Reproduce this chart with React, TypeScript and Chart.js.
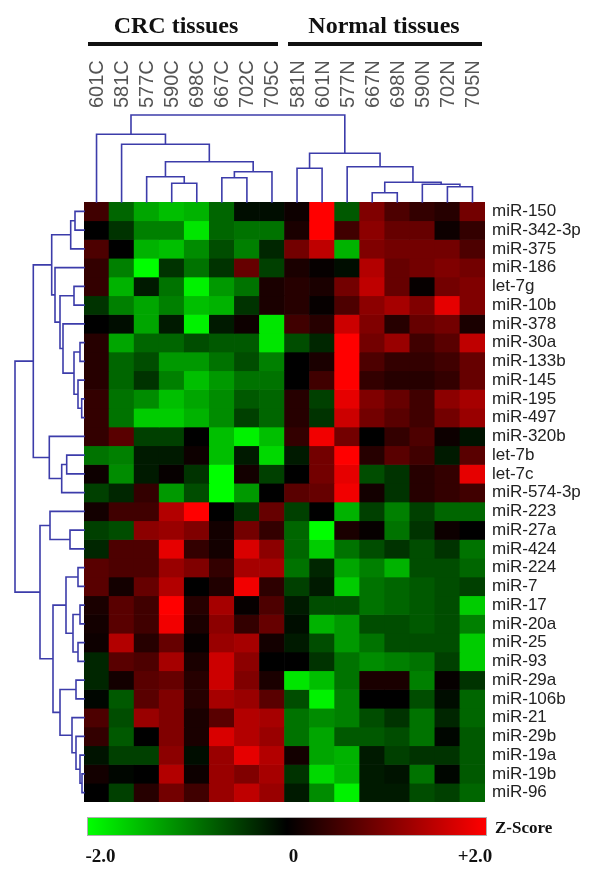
import React, { useEffect, useRef } from 'react';
import { Chart, registerables } from 'chart.js';

Chart.register(...registerables);

// ---------- data ----------
const COLUMNS = ['601C', '581C', '577C', '590C', '698C', '667C', '702C', '705C', '581N', '601N', '577N', '667N', '698N', '590N', '702N', '705N'];

const ROWS = ['miR-150', 'miR-342-3p', 'miR-375', 'miR-186', 'let-7g', 'miR-10b', 'miR-378', 'miR-30a', 'miR-133b', 'miR-145', 'miR-195', 'miR-497', 'miR-320b', 'let-7b', 'let-7c', 'miR-574-3p', 'miR-223', 'miR-27a', 'miR-424', 'miR-224', 'miR-7', 'miR-17', 'miR-20a', 'miR-25', 'miR-93', 'miR-29a', 'miR-106b', 'miR-21', 'miR-29b', 'miR-19a', 'miR-19b', 'miR-96'];

// z-scores, one row per miRNA, one value per sample (COLUMNS order)
const Z_SCORES: number[][] = [
  [0.5, -0.8, -1.3, -1.5, -1.4, -0.8, -0.1, -0.1, 0.1, 2.0, -0.7, 1.0, 0.6, 0.4, 0.3, 0.9],
  [0.0, -0.4, -1.0, -1.0, -1.8, -0.8, -0.9, -0.9, 0.2, 2.0, 0.5, 1.1, 0.8, 0.8, 0.1, 0.4],
  [0.6, 0.0, -1.4, -1.5, -1.1, -0.6, -1.0, -0.3, 0.9, 1.5, -1.4, 1.0, 0.9, 0.9, 0.9, 0.6],
  [0.4, -1.0, -2.0, -0.4, -0.9, -0.4, 0.8, -0.5, 0.2, 0.05, -0.1, 1.4, 0.8, 0.9, 1.0, 0.9],
  [0.4, -1.4, -0.2, -0.9, -1.9, -1.2, -0.9, 0.2, 0.3, 0.2, 0.9, 1.5, 0.8, 0.05, 0.9, 1.0],
  [-0.4, -1.0, -1.3, -1.0, -1.5, -1.4, -0.4, 0.2, 0.3, 0.05, 0.6, 1.1, 1.3, 1.0, 1.8, 1.0],
  [0.0, -0.1, -1.3, -0.2, -1.9, -0.2, 0.1, -1.8, 0.5, 0.3, 1.6, 1.0, 0.3, 0.8, 0.9, 0.2],
  [0.3, -1.3, -0.8, -0.8, -0.6, -0.7, -0.7, -1.8, -0.6, -0.3, 2.0, 0.9, 1.2, 0.5, 0.7, 1.5],
  [0.3, -0.8, -0.6, -1.2, -1.2, -0.9, -0.6, -1.0, 0.0, 0.2, 2.0, 0.6, 0.4, 0.4, 0.5, 0.8],
  [0.3, -0.8, -0.4, -1.0, -1.5, -1.2, -0.9, -0.9, 0.0, 0.5, 2.0, 0.4, 0.3, 0.3, 0.4, 0.8],
  [0.4, -0.9, -1.1, -1.5, -1.3, -1.1, -0.7, -0.8, 0.3, -0.5, 1.8, 1.0, 0.8, 0.5, 1.1, 1.3],
  [0.4, -0.9, -1.6, -1.6, -1.4, -1.1, -0.5, -0.8, 0.3, -0.4, 1.6, 0.9, 0.7, 0.5, 0.9, 1.2],
  [0.4, 0.7, -0.5, -0.5, 0.0, -1.5, -1.9, -1.5, 0.4, 1.9, 0.9, 0.0, 0.4, 0.6, 0.1, -0.15],
  [-0.9, -1.0, -0.2, -0.2, 0.1, -1.5, -0.2, -1.7, -0.2, 0.9, 2.0, 0.3, 0.7, 0.5, -0.2, 0.7],
  [0.1, -1.1, -0.2, 0.05, -0.4, -2.0, 0.15, -0.5, 0.0, 0.9, 1.8, -0.6, -0.4, 0.3, 0.4, 1.8],
  [-0.5, -0.3, 0.4, -1.2, -0.6, -2.0, -1.2, 0.0, 0.7, 0.8, 1.9, 0.15, -0.4, 0.3, 0.4, 0.5],
  [0.15, 0.5, 0.5, 1.4, 2.0, 0.0, -0.4, 0.8, -0.5, 0.0, -1.4, -0.5, -1.0, -0.5, -0.8, -0.8],
  [-0.5, -0.6, 1.1, 1.2, 1.0, 0.15, 0.9, 0.4, -0.8, -2.0, 0.2, 0.05, -0.9, -0.4, 0.1, 0.0],
  [-0.3, 0.6, 0.6, 1.8, 0.4, 0.15, 1.7, 1.1, -0.8, -1.6, -0.9, -0.6, -0.4, -0.6, -0.4, -0.9],
  [0.7, 0.6, 0.6, 1.2, 1.0, 0.4, 1.3, 1.3, -0.9, -0.3, -1.3, -1.0, -1.4, -0.6, -0.6, -0.8],
  [0.7, 0.15, 0.8, 1.4, 0.0, 0.25, 1.9, 0.35, -0.5, -0.2, -1.6, -0.9, -0.8, -0.7, -0.6, -0.5],
  [0.2, 0.7, 0.5, 2.0, 0.3, 1.3, 0.05, 0.6, -0.2, -0.6, -0.6, -0.9, -0.8, -0.7, -0.6, -1.6],
  [0.15, 0.7, 0.5, 1.9, 0.2, 1.1, 0.4, 0.8, -0.1, -1.4, -1.2, -0.6, -0.6, -0.7, -0.6, -1.0],
  [0.1, 1.4, 0.3, 0.8, 0.05, 1.2, 1.3, 0.15, -0.2, -0.6, -1.2, -0.9, -0.6, -0.6, -0.6, -1.6],
  [-0.3, 0.7, 0.6, 1.3, 0.2, 1.6, 1.1, 0.0, 0.0, -0.4, -0.9, -1.1, -1.0, -0.9, -0.5, -1.6],
  [-0.3, 0.15, 0.7, 0.8, 0.3, 1.6, 1.0, 0.2, -1.8, -1.5, -0.9, 0.2, 0.2, -1.0, 0.05, -0.4],
  [-0.05, -0.7, 0.7, 1.0, 0.3, 1.3, 1.2, 0.7, -0.6, -1.9, -1.0, 0.0, 0.0, -0.6, -0.1, -0.8],
  [0.6, -0.6, 1.2, 1.0, 0.2, 0.7, 1.4, 1.3, -0.9, -1.1, -1.0, -0.6, -0.4, -0.9, -0.3, -0.8],
  [0.4, -0.7, 0.0, 1.0, 0.2, 1.7, 1.4, 1.2, -0.9, -1.3, -0.7, -0.7, -0.6, -0.9, -0.05, -0.7],
  [-0.15, -0.5, -0.5, 1.1, -0.1, 1.2, 1.8, 1.4, 0.15, -1.3, -1.4, -0.2, -0.5, -0.4, -0.4, -0.7],
  [0.15, -0.05, 0.0, 1.4, 0.1, 1.2, 1.0, 1.3, -0.4, -1.7, -1.4, -0.2, -0.15, -0.9, -0.05, -0.7],
  [0.0, -0.5, 0.3, 0.9, 0.5, 1.2, 1.5, 1.2, -0.2, -1.1, -1.9, -0.2, -0.2, -0.6, -0.5, -0.8],
];

// hierarchical clustering linkage: [childA, childB, distance]; leaves 0..n-1, merges n+k
const COLUMN_LINKAGE: [number, number, number][] = [
  [5, 6, 2.43], [3, 4, 1.87], [2, 17, 2.53], [16, 7, 3.03], [18, 19, 4.03],
  [1, 20, 5.77], [0, 21, 6.77], [14, 15, 1.53], [13, 23, 1.77], [11, 12, 0.93],
  [25, 24, 1.97], [10, 26, 3.53], [8, 9, 3.37], [28, 27, 4.87], [22, 29, 8.7],
];

const ROW_LINKAGE: [number, number, number][] = [
  [0, 1, 0.9], [32, 2, 1.33], [4, 5, 1.0], [7, 8, 0.4], [10, 11, 0.23],
  [9, 36, 0.6], [35, 37, 1.0], [6, 38, 2.1], [34, 39, 2.4], [3, 40, 2.9],
  [33, 41, 3.23], [13, 14, 1.73], [43, 15, 2.23], [12, 44, 3.47], [42, 45, 5.07],
  [17, 18, 1.4], [16, 47, 3.4], [19, 20, 0.6], [21, 22, 0.4], [23, 24, 0.6],
  [50, 51, 1.1], [49, 52, 1.8], [25, 26, 0.8], [30, 31, 0.2], [29, 55, 0.4],
  [28, 56, 0.8], [27, 57, 1.2], [54, 58, 2.4], [53, 59, 3.1], [48, 60, 4.4],
  [46, 61, 6.9],
];

const GROUP_LABELS = ['CRC tissues', 'Normal tissues'];
const SCALE_TICKS = ['-2.0', '0', '+2.0'];
const SCALE_TITLE = 'Z-Score';
const Z_MAX = 2;

// ---------- helpers ----------
function zColor(z: number): string {
  const t = Math.max(-1, Math.min(1, z / Z_MAX));
  if (t >= 0) return `rgb(${Math.round(255 * t)},0,0)`;
  return `rgb(0,${Math.round(-255 * t)},0)`;
}

function drawDendrogram(
  ctx: CanvasRenderingContext2D,
  linkage: [number, number, number][],
  leafPos: (i: number) => number,
  base: number,
  unit: number,
  orientation: 'top' | 'left'
) {
  const n = linkage.length + 1;
  const pos: number[] = [];
  const h: number[] = [];
  for (let i = 0; i < n; i++) {
    pos[i] = leafPos(i);
    h[i] = 0;
  }
  ctx.beginPath();
  linkage.forEach(([a, b, d], k) => {
    const id = n + k;
    pos[id] = (pos[a] + pos[b]) / 2;
    h[id] = d;
    const na = base - h[a] * unit;
    const nb = base - h[b] * unit;
    const nn = base - d * unit;
    if (orientation === 'top') {
      ctx.moveTo(pos[a], na);
      ctx.lineTo(pos[a], nn);
      ctx.lineTo(pos[b], nn);
      ctx.lineTo(pos[b], nb);
    } else {
      ctx.moveTo(na, pos[a]);
      ctx.lineTo(nn, pos[a]);
      ctx.lineTo(nn, pos[b]);
      ctx.lineTo(nb, pos[b]);
    }
  });
  ctx.stroke();
}

const dendrogramPlugin = {
  id: 'dendrograms',
  afterDatasetsDraw(chart: any) {
    const { ctx, chartArea, scales } = chart;
    ctx.save();
    ctx.strokeStyle = '#3c3caa';
    ctx.lineWidth = 1.6;
    ctx.lineCap = 'square';
    drawDendrogram(ctx, COLUMN_LINKAGE, (i) => scales.x.getPixelForValue(i), chartArea.top, 10, 'top');
    drawDendrogram(ctx, ROW_LINKAGE, (i) => scales.y.getPixelForValue(i + 0.5), chartArea.left, 10, 'left');
    ctx.restore();
  },
};

const SERIF = '"Liberation Serif", "Times New Roman", Times, serif';
const SANS = '"Liberation Sans", Arial, Helvetica, sans-serif';

export default function App() {
  const canvasRef = useRef<HTMLCanvasElement>(null);

  useEffect(() => {
    const canvas = canvasRef.current;
    if (!canvas) return;
    const datasets = ROWS.map((name, r) => ({
      type: 'bar' as const,
      label: name,
      data: COLUMNS.map((c, j) => ({ x: c, y: [r, r + 1], z: Z_SCORES[r][j] })),
      backgroundColor: (c: any) => zColor(c.raw ? c.raw.z : 0),
      borderWidth: 0,
      grouped: false,
      barPercentage: 1,
      categoryPercentage: 1,
    }));

    const chart = new Chart(canvas, {
      type: 'bar',
      data: { labels: COLUMNS, datasets: datasets as any },
      plugins: [dendrogramPlugin],
      options: {
        responsive: false,
        maintainAspectRatio: false,
        animation: false,
        events: [],
        layout: { padding: { left: 84, right: 0, top: 58, bottom: 74 } },
        plugins: {
          legend: { display: false },
          tooltip: { enabled: false },
          title: { display: false },
        },
        scales: {
          x: {
            type: 'category',
            labels: COLUMNS,
            position: 'top',
            offset: true,
            grid: { display: false, drawTicks: false },
            border: { display: false },
            ticks: {
              autoSkip: false,
              minRotation: 90,
              maxRotation: 90,
              padding: 94,
              labelOffset: 25,
              color: '#555',
              font: { family: SANS, size: 20 },
            },
            afterFit: (s: any) => {
              s.height = 144;
              s.paddingLeft = 0;
              s.paddingRight = 0;
            },
          },
          y: {
            type: 'linear',
            position: 'right',
            min: 0,
            max: ROWS.length,
            reverse: true,
            grid: { display: false, drawTicks: false },
            border: { display: false },
            afterBuildTicks: (s: any) => {
              s.ticks = ROWS.map((_, i) => ({ value: i + 0.5 }));
            },
            ticks: {
              autoSkip: false,
              padding: 7,
              color: '#222',
              font: { family: SANS, size: 17 },
              callback: (_v: any, i: number) => ROWS[i],
            },
            afterFit: (s: any) => {
              s.width = 115;
              s.paddingTop = 0;
              s.paddingBottom = 0;
            },
          },
        },
      } as any,
    });
    return () => chart.destroy();
  }, []);

  const headerFont = { fontFamily: SERIF, fontWeight: 700, fontSize: 24, lineHeight: '24px', whiteSpace: 'nowrap' as const };
  const tickFont = { fontFamily: SERIF, fontWeight: 700, fontSize: 19, lineHeight: '19px', whiteSpace: 'nowrap' as const };

  return (
    <div style={{ position: 'absolute', left: 0, top: 0, width: 600, height: 876, background: '#fff', overflow: 'hidden' }}>
      <canvas ref={canvasRef} width={600} height={876} style={{ position: 'absolute', left: 0, top: 0 }} />
      {/* group headers */}
      <div style={{ position: 'absolute', left: 176, top: 12.6, transform: 'translateX(-50%)', color: '#111', ...headerFont }}>{GROUP_LABELS[0]}</div>
      <div style={{ position: 'absolute', left: 384, top: 12.6, transform: 'translateX(-50%)', color: '#111', ...headerFont }}>{GROUP_LABELS[1]}</div>
      <div style={{ position: 'absolute', left: 88, top: 41.5, width: 190, height: 4, background: '#111' }} />
      <div style={{ position: 'absolute', left: 288, top: 41.5, width: 194, height: 4, background: '#111' }} />
      {/* colour scale */}
      <div
        style={{
          position: 'absolute',
          left: 86.7,
          top: 816.7,
          width: 400,
          height: 19,
          boxSizing: 'border-box',
          border: '1px solid #b0b0b0',
          background: 'linear-gradient(to right, rgb(0,255,0), rgb(0,0,0), rgb(255,0,0))',
        }}
      />
      <div style={{ position: 'absolute', left: 495, top: 819.4, color: '#111', fontFamily: SERIF, fontWeight: 700, fontSize: 17, lineHeight: '17px', whiteSpace: 'nowrap' }}>{SCALE_TITLE}</div>
      <div style={{ position: 'absolute', left: 100.5, top: 846.1, transform: 'translateX(-50%)', color: '#111', ...tickFont }}>{SCALE_TICKS[0]}</div>
      <div style={{ position: 'absolute', left: 293.5, top: 846.1, transform: 'translateX(-50%)', color: '#111', ...tickFont }}>{SCALE_TICKS[1]}</div>
      <div style={{ position: 'absolute', left: 475, top: 846.1, transform: 'translateX(-50%)', color: '#111', ...tickFont }}>{SCALE_TICKS[2]}</div>
    </div>
  );
}
